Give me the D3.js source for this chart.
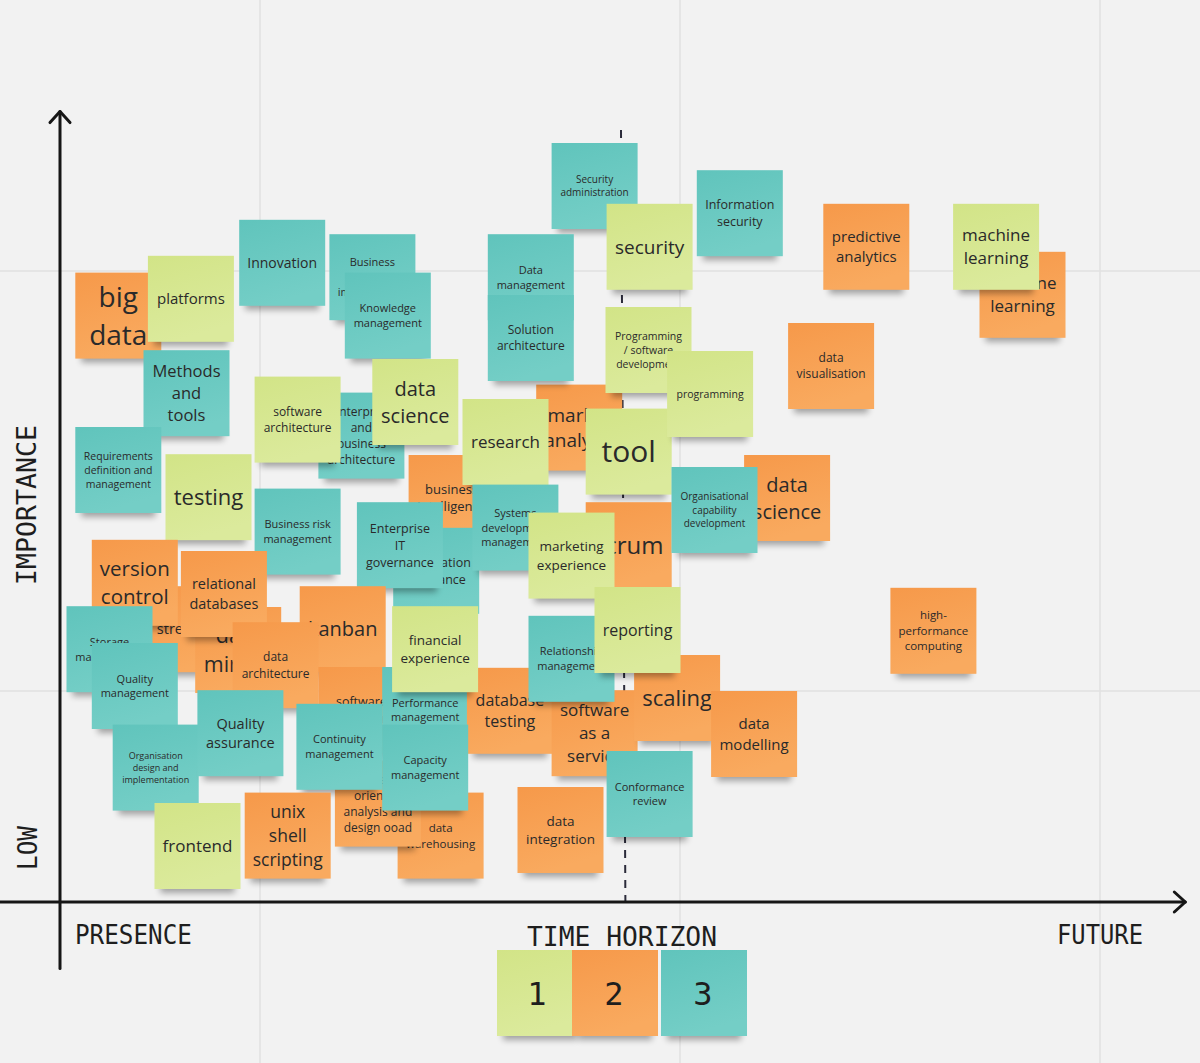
<!DOCTYPE html>
<html>
<head>
<meta charset="utf-8">
<script src="https://cdn.jsdelivr.net/npm/d3@7"></script>
<style>
  html, body { margin: 0; padding: 0; background: #f2f2f2; }
  svg { display: block; }
</style>
</head>
<body>
<div id="chart"></div>
<script>
// time horizon groups shown in the legend
const horizonGroups = [1, 2, 3];

// axis titles
const xTitles = ["PRESENCE", "TIME HORIZON", "FUTURE"];
const yTitles = ["IMPORTANCE", "LOW"];

// where the dashed "now" line sits on the time axis (top, bottom)
const nowLine = [[51.0, 96.5], [51.4, 0]];

// sticky notes in drawing order: label, horizon group, time horizon (0-100), importance (0-100)
const notes = [
    ["big data", 2, 5.3, 73.3],
    ["platforms", 1, 11.9, 75.4],
    ["Methods and tools", 3, 11.5, 63.6],
    ["Innovation", 3, 20.2, 79.9],
    ["Business process improvement", 3, 28.4, 78.1],
    ["Knowledge management", 3, 29.8, 73.3],
    ["Enterprise and business architecture", 3, 27.4, 58.3],
    ["software architecture", 1, 21.6, 60.3],
    ["data science", 1, 32.3, 62.5],
    ["Requirements definition and management", 3, 5.3, 54.0],
    ["testing", 1, 13.5, 50.6],
    ["business intelligence", 2, 35.6, 50.5],
    ["market analysis", 2, 47.2, 59.3],
    ["research", 1, 40.5, 57.5],
    ["tool", 1, 51.7, 56.3],
    ["Information assurance", 3, 34.2, 41.4],
    ["Systems development management", 3, 41.4, 46.8],
    ["Enterprise IT governance", 3, 30.9, 44.6],
    ["Business risk management", 3, 21.6, 46.3],
    ["scrum", 2, 51.7, 44.6],
    ["marketing experience", 1, 46.5, 43.3],
    ["data science", 2, 66.1, 50.5],
    ["Organisational capability development", 3, 59.5, 49.0],
    ["Security administration", 3, 48.6, 89.5],
    ["security", 1, 53.6, 81.9],
    ["Information security", 3, 61.8, 86.1],
    ["Data management", 3, 42.8, 78.1],
    ["Solution architecture", 3, 42.8, 70.5],
    ["Programming / software development", 1, 53.5, 69.0],
    ["programming", 1, 59.1, 63.5],
    ["data visualisation", 2, 70.1, 67.0],
    ["predictive analytics", 2, 73.3, 81.9],
    ["machine learning", 2, 87.5, 75.9],
    ["machine learning", 1, 85.1, 81.9],
    ["high-performance computing", 2, 79.4, 33.9],
    ["streaming", 2, 11.9, 34.1],
    ["version control", 2, 6.8, 39.9],
    ["data mining", 2, 16.2, 31.5],
    ["relational databases", 2, 14.9, 38.5],
    ["kanban", 2, 25.7, 34.1],
    ["data architecture", 2, 19.6, 29.6],
    ["software engineering", 2, 27.4, 24.0],
    ["Storage management", 3, 4.5, 31.6],
    ["Quality management", 3, 6.8, 27.0],
    ["Organisation design and implementation", 3, 8.7, 16.8],
    ["Quality assurance", 3, 16.4, 21.1],
    ["data warehousing", 2, 34.6, 8.3],
    ["object oriented analysis and design ooad", 2, 28.9, 12.3],
    ["Continuity management", 3, 25.4, 19.4],
    ["Performance management", 3, 33.2, 24.0],
    ["database testing", 2, 40.9, 23.9],
    ["financial experience", 1, 34.1, 31.6],
    ["Capacity management", 3, 33.2, 16.8],
    ["unix shell scripting", 2, 20.7, 8.3],
    ["frontend", 1, 12.5, 7.0],
    ["software as a service", 2, 48.6, 21.1],
    ["Relationship management", 3, 46.5, 30.4],
    ["scaling", 2, 56.1, 25.5],
    ["reporting", 1, 52.5, 34.0],
    ["data modelling", 2, 63.1, 21.0],
    ["Conformance review", 3, 53.6, 13.5],
    ["data integration", 2, 45.5, 9.0]
];

const width = 1200, height = 1063;
const NOTE = 86;
const FONT = "'Open Sans', 'Noto Sans', sans-serif";
const MONO = "'DejaVu Sans Mono', 'Liberation Mono', monospace";

const x = d3.scaleLinear().domain([0, 100]).range([60, 1160]);
const y = d3.scaleLinear().domain([0, 100]).range([902, 102]);

const svg = d3.select("#chart").append("svg")
    .attr("width", width)
    .attr("height", height);

svg.append("rect").attr("width", width).attr("height", height).attr("fill", "#f2f2f2");

const defs = svg.append("defs");
defs.append("filter").attr("id", "soft")
    .attr("x", "-20%").attr("y", "-100%").attr("width", "140%").attr("height", "300%")
    .append("feGaussianBlur").attr("stdDeviation", 3);

// slight gradient like the board stickies
const shades = {1: ["#d2e487", "#dbea9c"], 2: ["#f6994a", "#f9aa5f"], 3: ["#60c4bc", "#74cec6"]};
horizonGroups.forEach(function(g) {
    const lg = defs.append("linearGradient").attr("id", "note" + g)
        .attr("x1", 0).attr("y1", 0).attr("x2", 0.3).attr("y2", 1);
    lg.append("stop").attr("offset", "0%").attr("stop-color", shades[g][0]);
    lg.append("stop").attr("offset", "100%").attr("stop-color", shades[g][1]);
});
const fill = d3.scaleOrdinal().domain(horizonGroups).range(horizonGroups.map(g => "url(#note" + g + ")"));

// board grid
const grid = svg.append("g").attr("stroke", "#e1e1e1").attr("stroke-width", 1.5);
d3.range(-160, width, 420).forEach(function(gx) {
    grid.append("line").attr("x1", gx).attr("x2", gx).attr("y1", 0).attr("y2", height);
});
d3.range(-149, height, 420).forEach(function(gy) {
    grid.append("line").attr("x1", 0).attr("x2", width).attr("y1", gy).attr("y2", gy);
});

// dashed now line (sits behind the notes)
svg.append("line")
    .attr("x1", x(nowLine[0][0])).attr("y1", y(nowLine[0][1]))
    .attr("x2", x(nowLine[1][0])).attr("y2", y(nowLine[1][1]))
    .attr("stroke", "#2b2b3a").attr("stroke-width", 2)
    .attr("stroke-dasharray", "8,7");

// text fitting, roughly the way the whiteboard shrinks sticky text
const meas = svg.append("text").attr("font-family", FONT).attr("visibility", "hidden");
function textW(str, s) {
    meas.attr("font-size", s).text(str);
    return meas.node().getComputedTextLength();
}
function joinTok(a, b) {
    if (!a) return b;
    return a.endsWith("-") ? a + b : a + " " + b;
}
function fitText(label) {
    // allow a break after a hyphen, as in "high-" / "performance"
    const words = label.replace(/-(?=\S)/g, "- ").split(" ");
    const maxW = 70, maxH = 76, lh = 1.35;
    for (let s = 30; s >= 6; s -= 0.5) {
        const lines = [];
        let cur = "", ok = true;
        for (const w of words) {
            if (textW(w, s) > maxW) { ok = false; break; }
            const t = joinTok(cur, w);
            if (textW(t, s) <= maxW) cur = t;
            else { lines.push(cur); cur = w; }
        }
        if (!ok) continue;
        if (cur) lines.push(cur);
        if (lines.length * s * lh <= maxH) return {size: s, lines: lines, lh: lh};
    }
    return {size: 6, lines: [label], lh: 1.35};
}

function drawNote(parent, cx, cy, w, h, group) {
    parent.append("rect")
        .attr("x", cx - w / 2 + 6).attr("y", cy + h / 2 - 9)
        .attr("width", w - 12).attr("height", 13)
        .attr("fill", "#000").attr("opacity", 0.33)
        .attr("filter", "url(#soft)");
    parent.append("rect")
        .attr("x", cx - w / 2).attr("y", cy - h / 2)
        .attr("width", w).attr("height", h)
        .attr("fill", fill(group));
}

const gNotes = svg.append("g");
notes.forEach(function(d) {
    const cx = x(d[2]), cy = y(d[3]);
    const g = gNotes.append("g");
    drawNote(g, cx, cy, NOTE, NOTE, d[1]);
    const fit = fitText(d[0]);
    const n = fit.lines.length;
    fit.lines.forEach(function(line, i) {
        g.append("text")
            .attr("x", cx)
            .attr("y", cy + (i - (n - 1) / 2) * fit.size * fit.lh)
            .attr("dy", "0.36em")
            .attr("text-anchor", "middle")
            .attr("font-family", FONT)
            .attr("font-size", fit.size)
            .attr("fill", "#2a2a2a")
            .text(line);
    });
});
meas.remove();

// axes
const axes = svg.append("g").attr("stroke", "#161616").attr("stroke-width", 3)
    .attr("fill", "none").attr("stroke-linecap", "round").attr("stroke-linejoin", "round");
axes.append("line").attr("x1", 0).attr("x2", x(102.3)).attr("y1", y(0)).attr("y2", y(0));
axes.append("path").attr("d", d3.line()([[x(102.3) - 11, y(0) - 10], [x(102.3), y(0)], [x(102.3) - 11, y(0) + 10]]));
axes.append("line").attr("x1", x(0)).attr("x2", x(0)).attr("y1", y(-8.3)).attr("y2", y(98.8));
axes.append("path").attr("d", d3.line()([[x(0) - 10, y(98.8) + 11], [x(0), y(98.8)], [x(0) + 10, y(98.8) + 11]]));

// axis titles
const titleStyle = sel => sel.attr("font-family", MONO).attr("font-size", 27)
    .attr("fill", "#1e1e1e").attr("lengthAdjust", "spacingAndGlyphs");
svg.append("text").call(titleStyle).attr("x", 75).attr("y", 944).attr("textLength", 117).text(xTitles[0]);
svg.append("text").call(titleStyle).attr("x", 527).attr("y", 946).attr("textLength", 190).text(xTitles[1]);
svg.append("text").call(titleStyle).attr("x", 1057).attr("y", 944).attr("textLength", 86).text(xTitles[2]);
svg.append("text").call(titleStyle).attr("transform", "translate(36,585) rotate(-90)")
    .attr("textLength", 160).text(yTitles[0]);
svg.append("text").call(titleStyle).attr("transform", "translate(37,870) rotate(-90)")
    .attr("textLength", 44).text(yTitles[1]);

// legend stickies
const legendLeft = [497, 572, 661];
const legendNumX = [537, 614, 703];
const gLegend = svg.append("g");
horizonGroups.forEach(function(g, i) {
    drawNote(gLegend, legendLeft[i] + NOTE / 2, 993, NOTE, NOTE, g);
});
horizonGroups.forEach(function(g, i) {
    gLegend.append("text")
        .attr("x", legendNumX[i]).attr("y", 993).attr("dy", "0.36em")
        .attr("text-anchor", "middle")
        .attr("font-family", MONO).attr("font-size", 32)
        .attr("fill", "#1e1e1e")
        .text(g);
});
</script>
</body>
</html>
